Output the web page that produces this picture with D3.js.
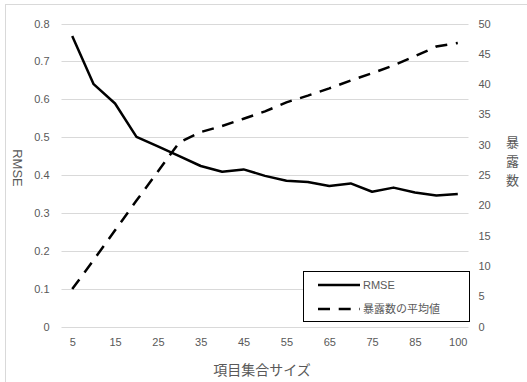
<!DOCTYPE html>
<html><head><meta charset="utf-8">
<script src="https://cdn.jsdelivr.net/npm/d3@7"></script>
<style>body{margin:0;background:#fff}svg{display:block}</style>
</head><body>
<script>
const categories = [5,10,15,20,25,30,35,40,45,50,55,60,65,70,75,80,85,90,100];
const rmse = [0.767,0.640,0.589,0.501,0.476,0.450,0.424,0.409,0.415,0.398,0.385,0.382,0.371,0.378,0.356,0.367,0.354,0.346,0.350];
const exposure = [6.2,11.0,15.9,20.8,25.6,30.4,32.1,33.1,34.3,35.5,37.0,38.1,39.3,40.6,41.8,43.1,44.6,46.2,46.8];
const leftTicks = [0,0.1,0.2,0.3,0.4,0.5,0.6,0.7,0.8];
const rightTicks = [0,5,10,15,20,25,30,35,40,45,50];
const xTickLabels = [5,15,25,35,45,55,65,75,85,100];
const seriesNames = ["RMSE","暴露数の平均値"];

const W=527,H=382;
const L=61.5,R=468.5,T=23.5,B=326.7;
const font="'Liberation Sans', Arial, sans-serif";
const jfont="'Noto Sans CJK JP', sans-serif";
const grey="#595959";

const svg=d3.select("body").append("svg").attr("width",W).attr("height",H);
svg.append("rect").attr("x",5.5).attr("y",4.5).attr("width",600).attr("height",500)
  .attr("fill","#fff").attr("stroke","#d9d9d9");

const x=d3.scalePoint().domain(categories).range([L,R]).padding(0.5);
const yL=d3.scaleLinear().domain([0,0.8]).range([B,T]);
const yR=d3.scaleLinear().domain([0,50]).range([B,T]);

// gridlines
svg.append("g").selectAll("line").data(leftTicks).join("line")
  .attr("x1",L).attr("x2",R).attr("y1",d=>Math.round(yL(d))+0.5).attr("y2",d=>Math.round(yL(d))+0.5)
  .attr("stroke","#d9d9d9").attr("stroke-width",1);

// left axis
const gl=svg.append("g").attr("transform",`translate(${L},0)`)
  .call(d3.axisLeft(yL).tickValues(leftTicks).tickSize(0).tickPadding(12)
  .tickFormat(d=>d===0?"0":d.toFixed(1)));
gl.select(".domain").remove();
gl.selectAll("text").attr("fill",grey).style("font-family",font).style("font-size","11px");

// right axis
const gr=svg.append("g").attr("transform",`translate(${R},0)`)
  .call(d3.axisRight(yR).tickValues(rightTicks).tickSize(0).tickPadding(10));
gr.select(".domain").remove();
gr.selectAll("text").attr("fill",grey).style("font-family",font).style("font-size","11px");

// bottom axis
const gb=svg.append("g").attr("transform",`translate(0,${B})`)
  .call(d3.axisBottom(x).tickValues(xTickLabels).tickSize(0).tickPadding(12));
gb.select(".domain").remove();
gb.selectAll("text").attr("fill",grey).style("font-family",font).style("font-size","11px");

// lines
svg.append("path").datum(rmse)
  .attr("d",d3.line().x((d,i)=>x(categories[i])).y(d=>yL(d)))
  .attr("fill","none").attr("stroke","#000").attr("stroke-width",2.5).attr("stroke-linejoin","round");
svg.append("path").datum(exposure)
  .attr("d",d3.line().x((d,i)=>x(categories[i])).y(d=>yR(d)))
  .attr("fill","none").attr("stroke","#000").attr("stroke-width",2.5).attr("stroke-dasharray","12,8.7");

// axis titles
svg.append("text").attr("transform","translate(13,168) rotate(90)").attr("text-anchor","middle")
  .attr("fill",grey).style("font-family",font).style("font-size","13px").text("RMSE");
svg.append("text").attr("x",262).attr("y",375).attr("text-anchor","middle")
  .attr("fill",grey).style("font-family",jfont).style("font-size","14px").text("項目集合サイズ");
["暴","露","数"].forEach((c,i)=>svg.append("text").attr("text-anchor","middle").attr("fill",grey)
  .style("font-family",jfont).style("font-size","13px")
  .attr("x",512.5).attr("y",147+i*19).text(c));

// legend
const lg=svg.append("g");
lg.append("rect").attr("x",303.5).attr("y",271.5).attr("width",166).attr("height",50)
  .attr("fill","#fff").attr("stroke","#000").attr("stroke-width",1);
[0,1].forEach(i=>{
  const yy=285+i*24;
  lg.append("line").attr("x1",318).attr("x2",360).attr("y1",yy).attr("y2",yy)
    .attr("stroke","#000").attr("stroke-width",2.5).attr("stroke-dasharray",i?"12,8.7":null);
  lg.append("text").attr("x",363).attr("y",yy+4).attr("fill",grey)
    .style("font-family",i?jfont:font).style("font-size","11px").text(seriesNames[i]);
});
</script>
</body></html>
